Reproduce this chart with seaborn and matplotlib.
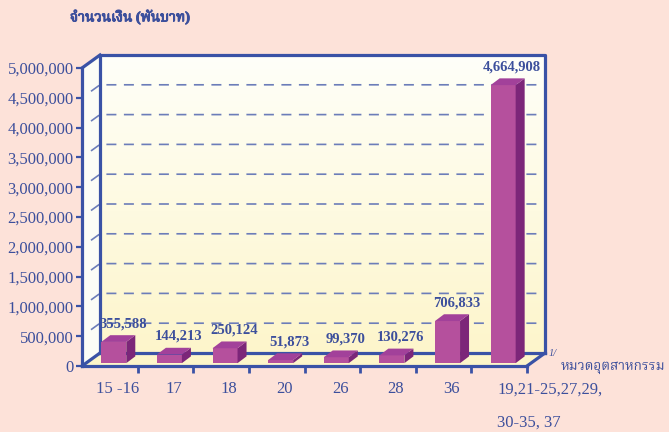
import matplotlib
matplotlib.use("Agg")
import matplotlib.patheffects as pe
import matplotlib.pyplot as plt
import numpy as np
import seaborn as sns
from matplotlib import font_manager
from matplotlib.colors import LinearSegmentedColormap
from matplotlib.ft2font import FT2Font
from matplotlib.patches import Polygon
from matplotlib.transforms import ScaledTranslation

# chart data
categories = ["15 -16", "17", "18", "20", "26", "28", "36", "19,21-25,27,29,\n30-35, 37"]
values = [355588, 144213, 250124, 51873, 99370, 130276, 706833, 4664908]
y_ticks = list(range(0, 5_000_001, 500_000))
title = "จำนวนเงิน (พันบาท)"
x_note = "หมวดอุตสาหกรรม"

# colours
BG = "#fde2d9"
AXIS_BLUE = "#3a52a6"
TEXT_BLUE = "#3c4f9c"
GRID = "#6c7db9"
FRONT = "#b5509d"
SIDE = "#7c2679"
TOP = "#a2419a"


def find_thai_family():
    """Return an installed family that has Thai glyphs"""
    found = []
    for entry in font_manager.fontManager.ttflist:
        try:
            if FT2Font(entry.fname).get_char_index(ord("ห")):
                found.append(entry.name)
        except Exception:
            continue
    for pref in ("Noto Serif Thai", "FreeSerif", "Norasi", "Kinnari", "Laksaman",
                 "Noto Sans Thai", "Tahoma", "Garuda", "Loma"):
        if pref in found:
            return pref
    return found[0] if found else "DejaVu Sans"


sns.set_style("white")
thai = find_thai_family()
plt.rcParams["font.family"] = ["Liberation Serif", thai, "DejaVu Sans"]

W, H, DPI = 669, 432, 100
fig = plt.figure(figsize=(W / DPI, H / DPI), dpi=DPI, facecolor=BG)
ax = fig.add_axes([82 / W, 66 / H, 445 / W, 298 / H])
ax.patch.set_visible(False)

sns.barplot(x=categories, y=values, color=FRONT, width=0.45, saturation=1,
            linewidth=0, ax=ax, zorder=5)
ax.set_xlim(-0.5, 7.5)
ax.set_ylim(0, 5_000_000)

# pixel -> data conversion for the oblique depth
ppx = ax.bbox.width / 8
ppy = ax.bbox.height / 5_000_000
ddx, ddy = 18 / ppx, 13 / ppy
x0, x1, ytop = -0.5, 7.5, 5_000_000

# walls + floor with a soft gradient
outline = Polygon([(x0, 0), (x1, 0), (x1 + ddx, ddy), (x1 + ddx, ytop + ddy),
                   (x0 + ddx, ytop + ddy), (x0, ytop)], closed=True,
                  transform=ax.transData, facecolor="none", edgecolor="none")
ax.add_patch(outline)
cmap = LinearSegmentedColormap.from_list("wall", ["#fdf5c9", "#fffff9"])
grad = np.linspace(0, 1, 256).reshape(-1, 1)
im = ax.imshow(grad, extent=(x0, x1 + ddx, 0, ytop + ddy), origin="lower",
               aspect="auto", cmap=cmap, zorder=0, interpolation="bilinear")
im.set_clip_path(outline)
im.set_clip_box(fig.bbox)

# left wall a touch whiter
ax.add_patch(Polygon([(x0, 0), (x0 + ddx, ddy), (x0 + ddx, ytop + ddy), (x0, ytop)],
                     closed=True, facecolor="#fbfcf6", edgecolor="none",
                     zorder=0.5, clip_on=False))

# dashed gridlines on the back wall
for v in y_ticks[1:-1]:
    ax.plot([x0 + ddx * 0.5, x0 + ddx, x1 + ddx - 0.12], [v + ddy * 0.5, v + ddy, v + ddy],
            ls=(0, (6, 4.5)), color=GRID, lw=1.2, clip_on=False, zorder=1)

# box edges
edge = dict(color=AXIS_BLUE, lw=2.3, clip_on=False, zorder=3, solid_capstyle="projecting")
ax.plot([x0 + ddx, x0 + ddx, x1 + ddx, x1 + ddx], [ddy, ytop + ddy, ytop + ddy, ddy], **edge)
ax.plot([x0 + ddx, x1 + ddx], [ddy, ddy], **edge)
ax.plot([x0, x0 + ddx], [ytop, ytop + ddy], **edge)
ax.plot([x0, x0 + ddx], [0, ddy], **edge)
ax.plot([x1, x1 + ddx], [0, ddy], **edge)

# 3d bars: shift the front faces back a little, then add side and top
shift_x, shift_y = 0.22 * ddx, 0.22 * ddy
bdx, bdy = 0.5 * ddx, 0.52 * ddy
for patch, v in zip(ax.patches, values):
    if not hasattr(patch, "get_width") or patch is outline:
        continue
    bx = patch.get_x() + shift_x
    bw = patch.get_width()
    patch.set_x(bx)
    patch.set_y(shift_y)
    top = v + shift_y
    ax.add_patch(Polygon([(bx + bw, shift_y), (bx + bw, top), (bx + bw + bdx, top + bdy),
                          (bx + bw + bdx, shift_y + bdy)], closed=True,
                         facecolor=SIDE, edgecolor="none", zorder=5, clip_on=False))
    ax.add_patch(Polygon([(bx, top), (bx + bw, top), (bx + bw + bdx, top + bdy),
                          (bx + bdx, top + bdy)], closed=True,
                         facecolor=TOP, edgecolor="none", zorder=5, clip_on=False))
    ax.annotate(f"{v:,}", xy=(bx + bw / 2, top + bdy), xytext=(9, 5),
                textcoords="offset pixels", ha="center", va="bottom",
                fontsize=10.5, fontweight="bold", color=TEXT_BLUE,
                annotation_clip=False, zorder=7)

# front axes
for side in ("top", "right"):
    ax.spines[side].set_visible(False)
for side in ("left", "bottom"):
    ax.spines[side].set_color(AXIS_BLUE)
    ax.spines[side].set_linewidth(2.3)
    ax.spines[side].set_zorder(6)

ax.set_yticks(y_ticks, labels=[f"{v:,}" for v in y_ticks])
ax.set_xticks(np.arange(0.5, 8, 1), labels=[""] * 8)
ax.set_xticks(range(len(categories)), labels=categories, minor=True)
ax.tick_params(axis="y", length=4, width=1.6, color=AXIS_BLUE, labelcolor=TEXT_BLUE,
               labelsize=12, pad=2, left=True)
ax.tick_params(axis="x", which="major", length=5, width=2, color=AXIS_BLUE, bottom=True)
ax.tick_params(axis="x", which="minor", length=0, labelcolor=TEXT_BLUE,
               labelsize=12, pad=11)
ax.set_xlabel("")
ax.set_ylabel("")

minor_labels = ax.get_xticklabels(minor=True)
for lbl in minor_labels[:-1]:
    lbl.set_transform(lbl.get_transform() + ScaledTranslation(8 / DPI, 0, fig.dpi_scale_trans))
last = minor_labels[-1]
last.set_horizontalalignment("left")
last.set_linespacing(2.45)
last.set_transform(last.get_transform() + ScaledTranslation(-2 / DPI, 0, fig.dpi_scale_trans))

# note at the right end of the floor
ax.annotate("1/", xy=(x1 + ddx, ddy), xytext=(4, -1), textcoords="offset pixels",
            ha="left", va="center", fontsize=7.5, style="italic", color=TEXT_BLUE,
            annotation_clip=False)
ax.annotate(x_note, xy=(x1 + ddx, ddy), xytext=(16, -15), textcoords="offset pixels",
            ha="left", va="center", fontsize=9.8, color=TEXT_BLUE, annotation_clip=False)

fig.text(70 / W, 1 - 17 / H, title, ha="left", va="center", fontsize=10.2,
         fontweight="bold", color=TEXT_BLUE,
         path_effects=[pe.withStroke(linewidth=0.7, foreground=TEXT_BLUE)])

fig.savefig("out.png", dpi=DPI, facecolor=BG)
